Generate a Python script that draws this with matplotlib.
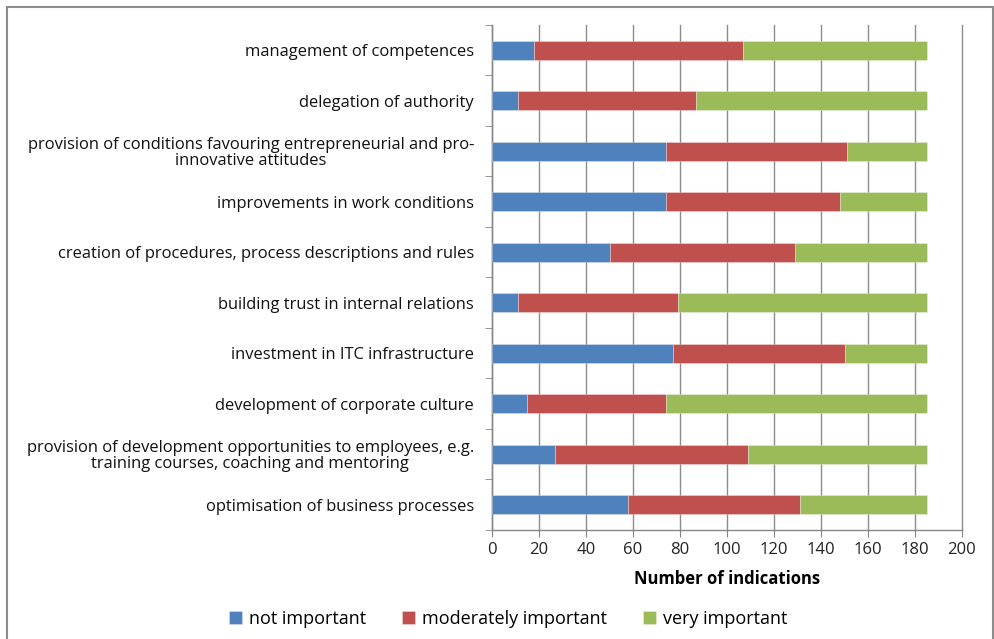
import matplotlib
matplotlib.use("Agg")
import matplotlib.pyplot as plt
from matplotlib.patches import Rectangle
import numpy as np

plt.rcParams['font.family'] = ['Open Sans', 'DejaVu Sans']

categories = [
    "management of competences",
    "delegation of authority",
    "provision of conditions favouring entrepreneurial and pro-\ninnovative attitudes",
    "improvements in work conditions",
    "creation of procedures, process descriptions and rules",
    "building trust in internal relations",
    "investment in ITC infrastructure",
    "development of corporate culture",
    "provision of development opportunities to employees, e.g.\ntraining courses, coaching and mentoring",
    "optimisation of business processes",
]
not_important = [18, 11, 74, 74, 50, 11, 77, 15, 27, 58]
moderately_important = [89, 76, 77, 74, 79, 68, 73, 59, 82, 73]
very_important = [78, 98, 34, 37, 56, 106, 35, 111, 76, 54]
series_names = ["not important", "moderately important", "very important"]
colors = ["#4F81BD", "#C0504D", "#9BBB59"]
x_ticks = list(range(0, 201, 20))

fig = plt.figure(figsize=(9.94, 6.39), dpi=100)
ax = fig.add_axes([0.495, 0.1706, 0.4728, 0.7903])

y = np.arange(len(categories))
left = np.zeros(len(categories))
for vals, name, col in zip([not_important, moderately_important, very_important],
                           series_names, colors):
    ax.barh(y, vals, left=left, height=0.38, color=col, label=name, zorder=3,
            edgecolor=(1, 1, 1, 0.35), linewidth=0.6)
    left += np.array(vals)

ax.set_ylim(len(categories) - 0.5, -0.5)
ax.set_xlim(0, 200)
ax.set_xticks(x_ticks)
ax.set_xticklabels([str(t) for t in x_ticks], fontsize=12, color="#222222")

ax.set_yticks(y)
ax.set_yticklabels(categories, fontsize=11.9, color="#111111", linespacing=0.95)
for lab in ax.get_yticklabels():
    lab.set_multialignment('center')
ax.set_yticks(np.arange(-0.5, len(categories) + 0.5, 1), minor=True)
ax.tick_params(axis='y', which='major', length=0, pad=13)
ax.tick_params(axis='y', which='minor', length=5, color="#868686", direction='out')
ax.tick_params(axis='x', which='major', length=5, color="#868686", direction='out', pad=4)

ax.grid(axis='x', color="#8c8c8c", linewidth=1.0, zorder=0)
for gl in ax.get_xgridlines():
    gl.set_clip_on(False)
for s in ['top', 'right']:
    ax.spines[s].set_visible(False)
for s in ['left', 'bottom']:
    ax.spines[s].set_color("#868686")
    ax.spines[s].set_linewidth(1.0)

ax.set_xlabel("Number of indications", fontsize=12, fontweight='bold', labelpad=8)

fig.legend(loc='center', bbox_to_anchor=(508 / 994, 1 - 619 / 639), ncol=3,
           frameon=False, fontsize=13, handlelength=0.75, handleheight=0.75,
           handletextpad=0.35, columnspacing=2.0)

fig.patches.append(Rectangle((7 / 994, -0.01), (993 - 7) / 994, 1 - 7 / 639 + 0.01,
                             transform=fig.transFigure, fill=False,
                             edgecolor="#8c8c8c", linewidth=1.5))

fig.savefig("out.png", dpi=100, facecolor="white")
